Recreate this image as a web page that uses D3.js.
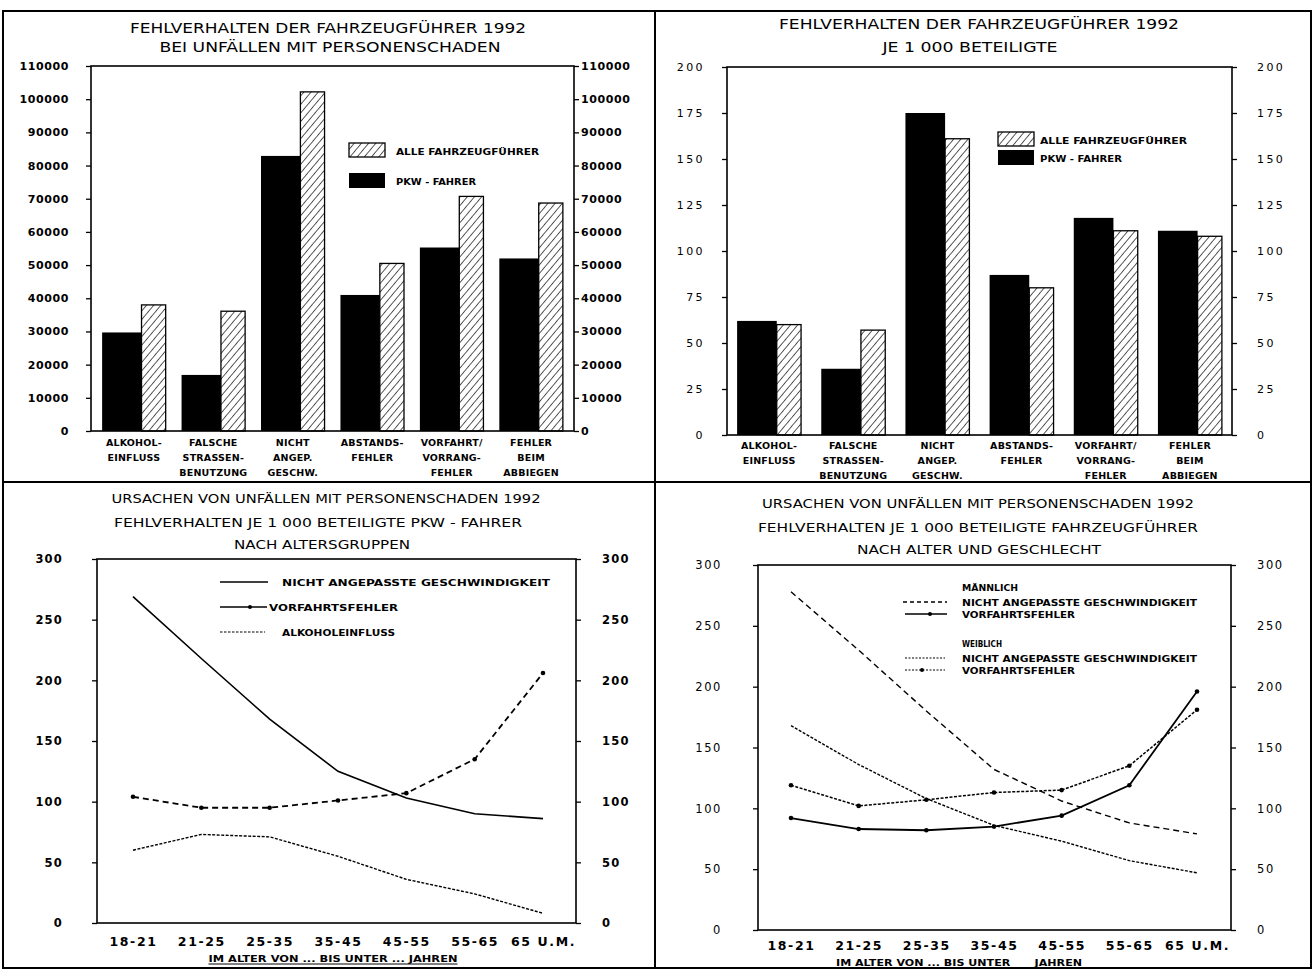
<!DOCTYPE html>
<html><head><meta charset="utf-8">
<script src="https://cdn.jsdelivr.net/npm/d3@7"></script>
<style>
html,body{margin:0;padding:0;background:#fff;}
svg{display:block;}
text{font-family:"DejaVu Sans",sans-serif;fill:#000;}
</style></head>
<body>
<svg id="c" width="1314" height="970"></svg>
<script>
// ---------- DATA ----------
const barCategories = ["ALKOHOL-|EINFLUSS","FALSCHE|STRASSEN-|BENUTZUNG","NICHT|ANGEP.|GESCHW.","ABSTANDS-|FEHLER","VORFAHRT/|VORRANG-|FEHLER","FEHLER|BEIM|ABBIEGEN"];
const absPkw   = [29700, 16900, 82900, 41000, 55300, 52000];
const absAlle  = [38000, 36100, 102200, 50500, 70700, 68700];
const ratePkw  = [62, 36, 175, 87, 118, 111];
const rateAlle = [60, 57, 161, 80, 111, 108];
const absTicks  = [0,10000,20000,30000,40000,50000,60000,70000,80000,90000,100000,110000];
const rateTicks = [0,25,50,75,100,125,150,175,200];
const ageGroups = ["18-21","21-25","25-35","35-45","45-55","55-65","65 U.M."];
const pkwSpeed    = [269, 218, 168, 125, 103, 90, 86];
const pkwVorfahrt = [104, 95, 95, 101, 107, 135, 206];
const pkwAlkohol  = [60, 73, 71, 55, 36, 24, 8];
const maleSpeed     = [278, 230, 180, 132, 106, 88, 79];
const maleVorfahrt  = [92, 83, 82, 85, 94, 119, 196];
const femaleSpeed   = [168, 136, 108, 86, 73, 57, 47];
const femaleVorfahrt= [119, 102, 107, 113, 115, 135, 181];
const lineTicks = [0,50,100,150,200,250,300];

// ---------- HELPERS ----------
const svg = d3.select("#c");
const defs = svg.append("defs");
const pat = defs.append("pattern").attr("id","hatch").attr("patternUnits","userSpaceOnUse")
  .attr("width",5.5).attr("height",5.5).attr("patternTransform","rotate(40)");
pat.append("rect").attr("width",5.5).attr("height",5.5).attr("fill","#fff");
pat.append("line").attr("x1",0).attr("y1",0).attr("x2",0).attr("y2",5.5).attr("stroke","#000").attr("stroke-width",1.3);

function txt(g, s, x, y, o={}) {
  const t = g.append("text").attr("x",x).attr("y",y).text(s)
    .attr("font-size",o.size||10).attr("font-weight",o.weight||"normal")
    .attr("text-anchor",o.anchor||"start");
  if (o.len) t.attr("textLength",o.len).attr("lengthAdjust","spacingAndGlyphs");
  return t;
}

// panel borders
svg.append("rect").attr("x",3).attr("y",11).attr("width",1308).attr("height",957)
  .attr("fill","none").attr("stroke","#000").attr("stroke-width",2);
svg.append("line").attr("x1",655).attr("x2",655).attr("y1",11).attr("y2",968).attr("stroke","#000").attr("stroke-width",2);
svg.append("line").attr("x1",3).attr("x2",1311).attr("y1",482).attr("y2",482).attr("stroke","#000").attr("stroke-width",2);

function yAxes(g, y, x0, x1, ticks, o) {
  const la = g.append("g").attr("transform",`translate(${x0},0)`)
    .call(d3.axisLeft(y).tickValues(ticks).tickSize(5).tickPadding(o.padL).tickFormat(d3.format("d")));
  const ra = g.append("g").attr("transform",`translate(${x1},0)`)
    .call(d3.axisRight(y).tickValues(ticks).tickSize(5).tickPadding(o.padR).tickFormat(d3.format("d")));
  [la,ra].forEach(a=>{
    a.select(".domain").remove();
    a.selectAll(".tick line").attr("stroke","#000").attr("stroke-width",1.3);
    a.selectAll(".tick text").attr("font-size",o.size).attr("font-weight",o.weight)
      .attr("letter-spacing",o.ls).attr("font-family","DejaVu Sans").attr("fill","#000");
  });
}

function frame(g, x0, x1, yTop, yBot) {
  g.append("rect").attr("x",x0).attr("y",yTop).attr("width",x1-x0).attr("height",yBot-yTop)
    .attr("fill","none").attr("stroke","#000").attr("stroke-width",1.6);
}

// ---------- BAR PANELS ----------
function barPanel(cfg) {
  const g = svg.append("g");
  const x = d3.scaleBand().domain(barCategories).range([cfg.x0, cfg.x1]).paddingInner(cfg.pi).paddingOuter(cfg.po);
  const y = d3.scaleLinear().domain([0, cfg.ymax]).range([cfg.yBot, cfg.yTop]);
  const bw = x.bandwidth();
  const wb = bw*cfg.blackFrac;
  g.selectAll(".h").data(cfg.alle).join("rect")
    .attr("x",(d,i)=>x(barCategories[i])+wb).attr("y",d=>y(d))
    .attr("width",bw-wb).attr("height",d=>y(0)-y(d))
    .attr("fill","url(#hatch)").attr("stroke","#000").attr("stroke-width",1.3);
  g.selectAll(".b").data(cfg.pkw).join("rect")
    .attr("x",(d,i)=>x(barCategories[i])).attr("y",d=>y(d))
    .attr("width",wb).attr("height",d=>y(0)-y(d)).attr("fill","#000");
  frame(g, cfg.x0, cfg.x1, y(cfg.ymax), y(0));
  yAxes(g, y, cfg.x0, cfg.x1, cfg.ticks, cfg.axis);
  const xa = g.append("g").attr("transform",`translate(0,${y(0)})`)
    .call(d3.axisBottom(x).tickSize(0).tickFormat(""));
  xa.select(".domain").remove();
  xa.selectAll(".tick").each(function(d){
    const t = d3.select(this).append("text").attr("text-anchor","middle")
      .attr("font-size",9.5).attr("font-weight","bold").attr("letter-spacing",0.2);
    d.split("|").forEach((s,k)=>t.append("tspan").attr("x",0).attr("y",cfg.catY + k*15).text(s));
  });
  cfg.titles.forEach(tt=>txt(g, tt.s, tt.x, tt.y, {size:13.5, anchor:"middle", len:tt.w}));
  const L = cfg.legend;
  g.append("rect").attr("x",L.x).attr("y",L.y1).attr("width",36).attr("height",14)
    .attr("fill","url(#hatch)").attr("stroke","#000").attr("stroke-width",1.3);
  txt(g,"ALLE FAHRZEUGFÜHRER",L.tx,L.y1+11.5,{size:9.5,weight:"bold",len:L.w1});
  g.append("rect").attr("x",L.x).attr("y",L.y2).attr("width",36).attr("height",15).attr("fill","#000");
  txt(g,"PKW - FAHRER",L.tx,L.y2+11.5,{size:9.5,weight:"bold",len:L.w2});
}

barPanel({x0:91, x1:574, yTop:66, yBot:431, ymax:110000, pi:0.2, po:0.14, blackFrac:0.62,
  pkw:absPkw, alle:absAlle, ticks:absTicks, catY:15,
  axis:{padL:17, padR:2, size:11, weight:"bold", ls:0.6},
  titles:[{s:"FEHLVERHALTEN DER FAHRZEUGFÜHRER 1992",x:328,y:33,w:396},
          {s:"BEI UNFÄLLEN MIT PERSONENSCHADEN",x:330,y:52,w:341}],
  legend:{x:349,tx:396,y1:143,y2:173,w1:143,w2:80}});

barPanel({x0:727, x1:1232, yTop:67, yBot:435, ymax:200, pi:0.24, po:0.12, blackFrac:0.62,
  pkw:ratePkw, alle:rateAlle, ticks:rateTicks, catY:14,
  axis:{padL:17, padR:20, size:11, weight:"normal", ls:2.4},
  titles:[{s:"FEHLVERHALTEN DER FAHRZEUGFÜHRER 1992",x:979,y:29,w:400},
          {s:"JE 1 000 BETEILIGTE",x:970,y:52,w:175}],
  legend:{x:998,tx:1040,y1:132,y2:150,w1:147,w2:82}});

// ---------- LINE PANELS ----------
function linePanel(cfg) {
  const g = svg.append("g");
  const x = d3.scalePoint().domain(ageGroups).range([cfg.p0, cfg.p1]);
  const y = d3.scaleLinear().domain([0,300]).range([cfg.yBot, cfg.yTop]);
  frame(g, cfg.x0, cfg.x1, y(300), y(0));
  yAxes(g, y, cfg.x0, cfg.x1, lineTicks, cfg.axis);
  const line = d3.line().x((d,i)=>x(ageGroups[i])).y(d=>y(d));
  cfg.series.forEach(s=>{
    g.append("path").datum(s.data).attr("d",line).attr("fill","none").attr("stroke","#000")
      .attr("stroke-width",s.w).attr("stroke-dasharray",s.dash||null);
    if (s.dots) g.selectAll(null).data(s.data).join("circle")
      .attr("cx",(d,i)=>x(ageGroups[i])).attr("cy",d=>y(d)).attr("r",2.3).attr("fill","#000");
  });
  const xa = g.append("g").attr("transform",`translate(0,${y(0)})`)
    .call(d3.axisBottom(x).tickSize(0).tickPadding(cfg.xPad));
  xa.select(".domain").remove();
  xa.selectAll(".tick text").attr("font-size",12.5).attr("font-weight","bold").attr("letter-spacing",1.6)
    .attr("font-family","DejaVu Sans").attr("fill","#000");
  cfg.titles.forEach(tt=>txt(g, tt.s, tt.x, tt.y, {size:12.5, anchor:"middle", len:tt.w}));
  const st = cfg.sub;
  txt(g, st.s, st.x, st.y, {size:8.5, weight:"bold", anchor:"middle", len:st.w});
  g.append("line").attr("x1",st.x-st.w/2).attr("x2",st.x+st.w/2).attr("y1",st.y+2).attr("y2",st.y+2)
    .attr("stroke","#000").attr("stroke-width",1);
  cfg.legend.forEach(l=>{
    if (l.seg) {
      g.append("line").attr("x1",l.seg[0]).attr("x2",l.seg[1]).attr("y1",l.ly).attr("y2",l.ly)
        .attr("stroke","#000").attr("stroke-width",l.w).attr("stroke-dasharray",l.dash||null);
      if (l.dot) g.append("circle").attr("cx",l.dot).attr("cy",l.ly).attr("r",2).attr("fill","#000");
    }
    txt(g, l.s, l.tx, l.ly+4, {size:9.5, weight:"bold", len:l.tw});
  });
}

linePanel({x0:97, x1:576, yTop:559, yBot:923, p0:133, p1:543, xPad:14,
  axis:{padL:29, padR:21, size:11.5, weight:"bold", ls:1.2},
  series:[
    {data:pkwSpeed, w:1.6},
    {data:pkwVorfahrt, w:1.8, dash:"6,4", dots:true},
    {data:pkwAlkohol, w:1.4, dash:"3,1.5"}
  ],
  titles:[{s:"URSACHEN VON UNFÄLLEN MIT PERSONENSCHADEN 1992",x:326,y:503,w:429},
          {s:"FEHLVERHALTEN JE 1 000 BETEILIGTE PKW - FAHRER",x:318,y:527,w:408},
          {s:"NACH ALTERSGRUPPEN",x:322,y:549,w:176}],
  sub:{s:"IM ALTER   VON ... BIS UNTER ... JAHREN",x:333,y:962,w:249},
  legend:[
    {s:"NICHT ANGEPASSTE GESCHWINDIGKEIT",tx:282,tw:268,ly:582,seg:[220,268],w:1.5},
    {s:"VORFAHRTSFEHLER",tx:269,tw:129,ly:607,seg:[220,267],w:1.5,dot:250},
    {s:"ALKOHOLEINFLUSS",tx:282,tw:113,ly:632,seg:[220,265],w:1.2,dash:"2.5,1.5"}
  ]});

linePanel({x0:758, x1:1231, yTop:565, yBot:930, p0:791, p1:1197, xPad:11,
  axis:{padL:31, padR:21, size:11.5, weight:"normal", ls:1.6},
  series:[
    {data:maleSpeed, w:1.4, dash:"6,4"},
    {data:maleVorfahrt, w:1.8, dots:true},
    {data:femaleSpeed, w:1.4, dash:"3,1.5"},
    {data:femaleVorfahrt, w:1.5, dash:"3,1.5", dots:true}
  ],
  titles:[{s:"URSACHEN VON UNFÄLLEN MIT PERSONENSCHADEN 1992",x:978,y:508,w:432},
          {s:"FEHLVERHALTEN JE 1 000 BETEILIGTE FAHRZEUGFÜHRER",x:978,y:532,w:440},
          {s:"NACH ALTER UND GESCHLECHT",x:979,y:554,w:244}],
  sub:{s:"IM ALTER   VON ... BIS UNTER ___ JAHREN",x:959,y:966,w:246},
  legend:[
    {s:"MÄNNLICH",tx:962,tw:56,ly:587},
    {s:"NICHT ANGEPASSTE GESCHWINDIGKEIT",tx:962,tw:235,ly:602,seg:[903,947],w:1.3,dash:"4,3"},
    {s:"VORFAHRTSFEHLER",tx:962,tw:113,ly:614,seg:[905,947],w:1.5,dot:930},
    {s:"WEIBLICH",tx:962,tw:40,ly:643},
    {s:"NICHT ANGEPASSTE GESCHWINDIGKEIT",tx:962,tw:235,ly:658,seg:[905,945],w:1.2,dash:"2,1.5"},
    {s:"VORFAHRTSFEHLER",tx:962,tw:113,ly:670,seg:[905,945],w:1.2,dash:"2,1.5",dot:922}
  ]});
</script>
</body></html>
